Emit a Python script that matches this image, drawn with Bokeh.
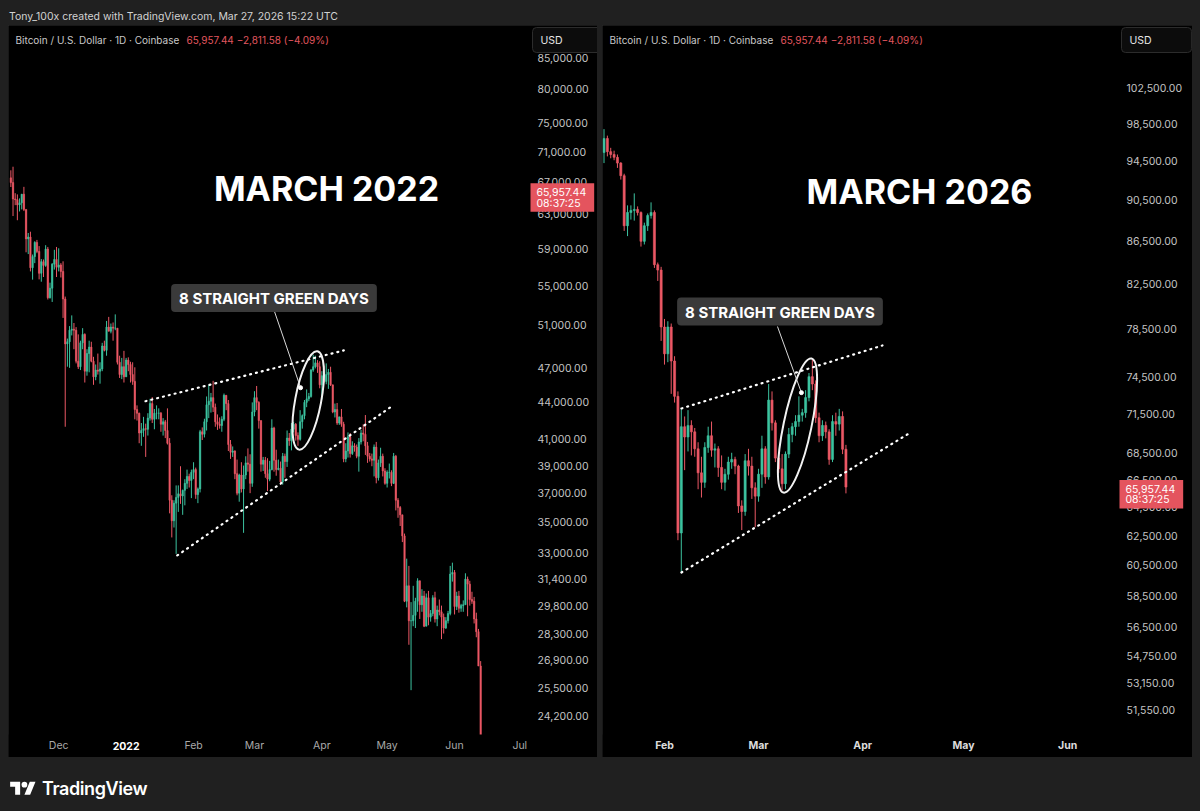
import numpy as np
import pandas as pd
from bokeh.plotting import figure
from bokeh.layouts import column, row
from bokeh.models import (ColumnDataSource, Range1d, FixedTicker, NumeralTickFormatter, LogAxis, LinearAxis,
                          Label, Div, BoxAnnotation, GlobalInlineStyleSheet)
from bokeh.embed import file_html
from bokeh.resources import INLINE

# ---------------------------------------------------------------- data 2021/22 (daily, from 2021-11-09)
L_FIRST_DATE = "2021-11-09"
L_FIRST_OPEN = 67550
L_HIGH = [
    68530, 69000, 65600, 65450, 64950, 65500, 66400, 63600, 60800, 60950, 58350, 59850, 60000, 59300, 57850, 57800,
    59400, 59200, 55300, 57400, 58880, 59200,
    59050, 57400, 57600, 53850, 49700, 50900, 51950, 51200, 50800, 50100, 49500, 50700, 50200, 48700, 49500, 49400,
    48000, 47300, 48300, 47500, 49300, 49500, 51400, 51800, 51150, 51250, 52050, 50700, 48100, 47900, 48550,
    47900, 47950, 47550, 47500, 47050, 43750, 43150, 42300, 42800, 42250, 43100, 44300, 44450, 43450, 43750, 43500,
    43200, 42700, 42550, 43500, 41100, 36850, 36500, 37550, 37550, 38950, 37250, 38000, 38700, 38400, 38700,
    39250, 38850, 37400, 41750, 41950, 42650, 44500, 45500, 44800, 45850, 43900, 43000, 42750, 42850, 44750, 44600,
    44200, 40950, 40450, 40150, 39450, 38400, 39250, 39000, 39700, 40300, 39850, 44000,
    44950, 45400, 44100, 42500, 39650, 39650, 39550, 39350, 42600, 42000, 40200, 39450, 39300, 39950, 39900, 41700,
    41500, 42300, 42400, 42300, 41550, 43350, 43000, 44200, 45100, 44800, 46900, 48200, 48100, 47700, 47600,
    46700, 47200, 47400, 46900, 47100, 45500, 43900, 43950, 42800, 43450, 42400, 40700, 41550, 41500, 40850, 40700,
    40600, 41100, 41750, 42200, 42950, 40800, 39950, 39900, 40600, 40800, 39450, 40350, 39900, 38800,
    38650, 39150, 38650, 39950, 39800, 36650, 36100, 35500, 34250, 32650, 32200, 30050, 31000, 30300, 31450, 31300,
    30800, 30700, 30550, 30700, 29600, 30450, 30650, 29850, 30200, 29850, 29400, 29200, 29550, 32200, 32400,
    31950, 30650, 30700, 29950, 30150, 31750, 31550, 31300, 30650, 30350, 29450, 28550, 26850,
]
L_LOW = [
    66380, 62800, 64120, 62300, 63350, 63600, 63400, 58600, 58400, 56500, 55620, 57400, 58500, 55650, 55400, 55900,
    57000, 53550, 53650, 53300, 56700, 55900,
    56500, 55850, 51700, 42000, 47100, 47000, 50000, 48700, 47400, 46900, 46800, 48700, 45700, 46300, 46600, 47500,
    45500, 45900, 46400, 45600, 46700, 48500, 48100, 50400, 50200, 49500, 50500, 47300, 46100, 46000, 45700,
    46200, 46700, 45700, 45500, 42600, 42500, 40700, 40500, 41200, 39650, 41300, 42500, 42300, 41800, 42600, 42600,
    41600, 41300, 41100, 40600, 35600, 34000, 34650, 32950, 35700, 36250, 35500, 36150, 37300, 37400, 36650,
    38000, 36600, 36300, 37050, 40950, 41150, 41700, 42700, 43150, 43200, 42000, 41750, 41850, 41600, 42450, 43350,
    40100, 39500, 39650, 38000, 36850, 36400, 37050, 34300, 38000, 38550, 37000, 37450,
    42850, 43350, 41850, 38550, 38600, 38100, 37150, 37850, 38650, 38550, 38250, 38650, 37600, 37600, 38100, 38900,
    40500, 40150, 41550, 40900, 40500, 40900, 41850, 42600, 43600, 44100, 44400, 46650, 46950, 46550, 45200,
    44250, 45650, 45550, 45150, 45400, 43100, 42750, 42150, 42150, 42000, 39250, 39250, 39600, 39600, 39800, 40050,
    39550, 38550, 40600, 40850, 39800, 39200, 39300, 38950, 38200, 37700, 37900, 38900, 38200, 37600,
    37400, 38050, 37500, 37650, 35800, 35300, 34750, 33700, 30050, 29750, 27700, 25400, 28700, 28600, 29500, 29100,
    29500, 28650, 28700, 28750, 28950, 29250, 28900, 28700, 29300, 28000, 28300, 28550, 28850, 29300, 31250,
    29350, 29600, 29450, 29500, 29500, 29900, 29250, 29850, 29950, 28850, 28100, 26600, 21950,
]
L_CLOSE = [
    66940, 64880, 64800, 64150, 64400, 65480, 63600, 60120, 60340, 56900, 58120, 59720, 58700, 56300, 57560, 57150,
    58960, 53730, 54720, 57290, 57810, 56950,
    57200, 56500, 53600, 49200, 49400, 50500, 50600, 50500, 47600, 47100, 49300, 50100, 46700, 48300, 48900, 47600,
    46200, 46800, 46700, 46900, 49000, 48600, 50800, 50400, 50800, 50700, 50700, 47500, 46400, 47100, 46200,
    47700, 47300, 46400, 45800, 43400, 43100, 41500, 41700, 41850, 41800, 42700, 43900, 42600, 43100, 43100, 43100,
    42200, 42400, 41700, 40700, 36500, 35100, 36300, 36700, 36950, 36800, 37200, 37700, 38200, 37900, 38500,
    38700, 36900, 37300, 41600, 41400, 42400, 43800, 44100, 44400, 43600, 42400, 42200, 42100, 42600, 44600, 43900,
    40600, 40000, 40100, 38400, 37000, 38300, 37300, 38300, 39200, 39100, 37700, 43200,
    44400, 44000, 42500, 39100, 39400, 38400, 38000, 38700, 41900, 39400, 38700, 38800, 37800, 39700, 39300, 41100,
    40900, 41800, 42200, 41300, 41000, 42400, 42900, 44000, 44300, 44500, 46800, 47100, 47450, 47100, 45500,
    46300, 45800, 46400, 46600, 45500, 43200, 43400, 42300, 42800, 42200, 39500, 40100, 41200, 39900, 40500, 40400,
    39700, 40800, 41500, 41400, 40500, 39700, 39500, 39400, 40400, 38100, 39200, 39700, 38600, 37700,
    38500, 38500, 37700, 39700, 36500, 36000, 35500, 34100, 30100, 31000, 29000, 29000, 29300, 30100, 31300, 29900,
    30400, 28700, 30300, 29200, 29400, 30300, 29100, 29600, 29500, 29200, 28600, 29000, 29400, 31700, 31800,
    29800, 30400, 29700, 29850, 29900, 31400, 31100, 30200, 30100, 29100, 28400, 26600, 22500,
]
L_ZERO = "2021-12-01"
L_XTICK_DATES = ["2021-12-01", "2022-01-01", "2022-02-01", "2022-03-01", "2022-04-01", "2022-05-01",
                 "2022-06-01", "2022-07-01"]
L_XTICK_LABELS = ["Dec", "2022", "Feb", "Mar", "Apr", "May", "Jun", "Jul"]
L_YTICKS = [24200, 25500, 26900, 28300, 29800, 31400, 33000, 35000, 37000, 39000, 41000, 44000, 47000,
            51000, 55000, 59000, 63000, 67000, 71000, 75000, 80000, 85000]

# ---------------------------------------------------------------- data 2026 (daily, from 2026-01-14)
R_FIRST_DATE = "2026-01-14"
R_FIRST_OPEN = 95400
R_HIGH = [
    97900, 97200, 95900, 95600, 95200, 94400, 93200, 90000, 90000, 91200, 89900, 89400, 88300, 89200, 90300, 89500,
    84500, 84100,
    79400, 79200, 79000, 76200, 73300, 71900, 71300, 71800, 71000, 70400, 69300, 68200, 69300, 70500, 70900, 69200,
    69000, 68300, 67300, 68200, 68500, 68200, 67600, 65000, 68400, 68800, 68200, 66300,
    67300, 69800, 69000, 73900, 73300, 71000, 68500, 68400, 68600, 70400, 70800, 71400, 72900, 71900, 73400, 74800,
    76000, 74200, 71600, 71000, 70900, 70300, 71400, 71600, 71900, 71700, 69100,
]
R_LOW = [
    94300, 95000, 94800, 94600, 93800, 92600, 87500, 87000, 88600, 88500, 89000, 86000, 86200, 87500, 88700, 84000,
    82800, 77500,
    75500, 75700, 73100, 72400, 62200, 60000, 67200, 68600, 68300, 68200, 65800, 65200, 65900, 68500, 68200, 67400,
    66700, 65800, 65700, 66500, 67300, 66900, 64100, 62900, 63900, 66800, 65100, 63100,
    64900, 65900, 66200, 66500, 70200, 67800, 67000, 65700, 65800, 68100, 69300, 69800, 70500, 70900, 71200, 72500,
    73400, 70800, 69300, 69400, 69600, 67600, 67800, 69800, 70200, 68400, 65500,
]
R_CLOSE = [
    96900, 95500, 95200, 94900, 94300, 93000, 88000, 89300, 89500, 89600, 89300, 86500, 88000, 89000, 89300, 84300,
    83800, 78700,
    76400, 78700, 75800, 72900, 62700, 70500, 69700, 70600, 70100, 68800, 67000, 66300, 68900, 69800, 68700, 68800,
    67400, 66300, 66900, 67800, 68000, 67500, 64600, 64200, 67900, 67500, 65900, 65300,
    66900, 68800, 66700, 72600, 70800, 68100, 67300, 66200, 68400, 69900, 70500, 70900, 71400, 71600, 72800, 74500,
    73900, 71200, 69800, 70600, 70100, 68000, 70900, 70700, 71300, 68769.02, 65957.44,
]
R_ZERO = "2026-02-01"
R_XTICK_DATES = ["2026-02-01", "2026-03-01", "2026-04-01", "2026-05-01", "2026-06-01"]
R_XTICK_LABELS = ["Feb", "Mar", "Apr", "May", "Jun"]
R_YTICKS = [51550, 53150, 54750, 56500, 58500, 60500, 62500, 64500, 66500, 68500, 71500, 74500, 78500,
            82500, 86500, 90500, 94500, 98500, 102500]

LAST_PRICE = 65957.44
LAST_CHANGE = -2811.58
LAST_PCT = -4.09
COUNTDOWN = "08:37:25"

# drawn annotations: (dates, prices)
L_UPPER_TREND = (["2022-01-09 22:00", "2022-04-11 02:00"], [44100, 48590])
L_LOWER_TREND = (["2022-01-24 12:00", "2022-05-02 14:00"], [32850, 43600])
L_ELLIPSE = ("2022-03-25 17:00", 44160)
L_POINTER = (["2022-03-10 05:00", "2022-03-22 05:00"], [52340, 45250])
R_UPPER_TREND = (["2026-02-06 01:00", "2026-04-06 21:00"], [71930, 77110])
R_LOWER_TREND = (["2026-02-06 01:00", "2026-04-15 05:00"], [60020, 70050])
R_ELLIPSE = ("2026-03-12 14:00", 70590)
R_POINTER = (["2026-03-06 15:00", "2026-03-13 18:00"], [78740, 73200])

# ---------------------------------------------------------------- style / layout
UP = "#3cc3a0"
DOWN = "#eb5865"
RED_TXT = "#e0565f"
FONT = "Inter"
PANEL_H = 732


def days(dates, zero):
    return ((pd.to_datetime(pd.Series(dates)) - pd.Timestamp(zero)) / pd.Timedelta(days=1)).to_numpy(dtype=float)


def candle_source(first_date, first_open, highs, lows, closes, zero):
    n = min(len(highs), len(lows), len(closes))
    c = np.array(closes[:n], float)
    o = np.concatenate([[first_open], c[:-1]])
    h = np.maximum(np.array(highs[:n], float), np.maximum(o, c))
    l = np.minimum(np.array(lows[:n], float), np.minimum(o, c))
    x = days(pd.date_range(first_date, periods=n, freq="D"), zero)
    color = np.where(c >= o, UP, DOWN)
    return ColumnDataSource(dict(x=x, o=o, h=h, l=l, c=c, top=np.maximum(o, c),
                                 bottom=np.minimum(o, c), color=color))


def panel(width, xr, yr, scale_x, axis_price, yticks, xtick_dates, xtick_labels, zero, src,
          upper, lower, ell, ell_size, pointer, title, title_pos, box_pos, price_x, x_bold, hide_label=None):
    p = figure(width=width, height=PANEL_H, x_range=Range1d(*xr), y_range=Range1d(*yr),
               y_axis_type="log", x_axis_location=None, y_axis_location=None, output_backend="svg",
               toolbar_location=None, background_fill_color="#000000", border_fill_color="#000000",
               min_border_left=0, min_border_right=0, min_border_top=0, min_border_bottom=0,
               styles={"outline": "1px solid #303030", "outline-offset": "-1px"})
    p.outline_line_color = None
    p.grid.visible = False

    # candles
    p.segment(x0="x", y0="h", x1="x", y1="l", line_color="color", line_width=1, source=src)
    p.vbar(x="x", width=0.62, top="top", bottom="bottom", fill_color="color", line_color="color",
           line_width=0.6, source=src)
    # time-scale strip covers anything below the chart pane
    p.add_layout(BoxAnnotation(top=axis_price, fill_color="#000000", fill_alpha=1.0, line_color=None,
                               level="glyph"))

    ya = LogAxis(fixed_location=scale_x, ticker=FixedTicker(ticks=yticks),
                 formatter=NumeralTickFormatter(format="0,0.00"))
    ya.axis_line_color = None
    ya.major_tick_line_color = None
    ya.minor_tick_line_color = None
    ya.major_tick_out = 0
    ya.major_tick_in = 0
    ya.major_label_standoff = 8
    ya.major_label_text_font = FONT
    ya.major_label_text_font_size = "10.5px"
    ya.major_label_text_color = "#c4c4c4"
    p.add_layout(ya, "right")

    xt = days(xtick_dates, zero)
    xa = LinearAxis(fixed_location=axis_price, ticker=FixedTicker(ticks=list(xt)))
    xa.major_label_overrides = {float(t): ("" if lab == hide_label else lab) for t, lab in zip(xt, xtick_labels)}
    xa.axis_line_color = None
    xa.major_tick_line_color = None
    xa.minor_tick_line_color = None
    xa.major_tick_out = 0
    xa.major_tick_in = 0
    xa.major_label_standoff = 5
    xa.major_label_text_font = FONT
    xa.major_label_text_font_size = "10.5px"
    xa.major_label_text_color = "#dcdcdc" if x_bold else "#a9a9a9"
    xa.major_label_text_font_style = "bold" if x_bold else "normal"
    p.add_layout(xa, "below")
    if hide_label is not None:
        i = xtick_labels.index(hide_label)
        p.add_layout(Label(x=xt[i], y=PANEL_H - 720, x_units="data", y_units="screen", text=hide_label,
                           text_font=FONT, text_font_size="10.5px", text_font_style="bold",
                           text_color="#ffffff", text_align="center", text_baseline="middle"))

    # drawings
    for d, v in (upper, lower):
        p.line(x=days(d, zero), y=v, line_color="#ffffff", line_width=2.2, line_dash="1 5", line_cap="round")
    p.ellipse(x=days([ell[0]], zero), y=[ell[1]], width=ell_size[0], height=ell_size[1], angle=ell_size[2],
              width_units="screen", height_units="screen", fill_color=None, line_color="#f2f2f2", line_width=2)
    px = days(pointer[0], zero)
    p.line(x=px, y=pointer[1], line_color="#d9d9d9", line_width=1)
    p.scatter(x=[px[-1]], y=[pointer[1][-1]], size=4, color="#ffffff")

    # texts
    p.add_layout(Label(x=7, y=PANEL_H - 14, x_units="screen", y_units="screen",
                       text="Bitcoin / U.S. Dollar · 1D · Coinbase", text_font=FONT, text_font_size="10px",
                       text_color="#c8c8c8", text_baseline="middle"))
    p.add_layout(Label(x=178, y=PANEL_H - 14, x_units="screen", y_units="screen",
                       text=f"{LAST_PRICE:,.2f}  −{abs(LAST_CHANGE):,.2f} (−{abs(LAST_PCT):.2f}%)",
                       text_font=FONT, text_font_size="10px", text_color=RED_TXT, text_baseline="middle"))
    p.add_layout(Label(x=price_x + 3, y=PANEL_H - 14.5, x_units="screen", y_units="screen", text="USD",
                       text_font=FONT, text_font_size="10.5px", text_color="#e6e6e6", text_baseline="middle",
                       background_fill_color="#0c0c0c", border_line_color="#2c2c2c", border_radius=4,
                       padding=(8, 40, 6, 6)))
    p.add_layout(Label(x=price_x + 1, y=LAST_PRICE, x_units="screen", y_units="data",
                       text=f"{LAST_PRICE:,.2f}\n{COUNTDOWN}", text_font=FONT, text_font_size="10.5px",
                       text_color="#ffffff", text_baseline="top", y_offset=7, text_line_height=0.8,
                       background_fill_color="#e4545e", padding=(6, 8, 3, 2)))
    p.add_layout(Label(x=title_pos[0], y=PANEL_H - title_pos[1], x_units="screen", y_units="screen",
                       text=title, text_font=FONT, text_font_size="34px", text_font_style="bold",
                       text_color="#ffffff", text_align="center", text_baseline="middle"))
    p.add_layout(Label(x=box_pos[0], y=PANEL_H - box_pos[1], x_units="screen", y_units="screen",
                       text="8 STRAIGHT GREEN DAYS", text_font=FONT, text_font_size="15px",
                       text_font_style="bold", text_color="#ffffff", text_align="center",
                       text_baseline="middle", background_fill_color="#3a3a3a", border_radius=4,
                       padding=(8, 8, 5, 4)))
    return p


src_l = candle_source(L_FIRST_DATE, L_FIRST_OPEN, L_HIGH, L_LOW, L_CLOSE, L_ZERO)
src_r = candle_source(R_FIRST_DATE, R_FIRST_OPEN, R_HIGH, R_LOW, R_CLOSE, R_ZERO)

# panels: left spans page x 8..597, right 602..1192; both page y 25..757
p1 = panel(589, (-23.08, 247.72), (22336, 90355), 216.46, 23340, L_YTICKS, L_XTICK_DATES, L_XTICK_LABELS,
           L_ZERO, src_l, L_UPPER_TREND, L_LOWER_TREND, L_ELLIPSE, (26, 100, -0.186), L_POINTER,
           "MARCH 2022", (318, 163), (265.5, 272.5), 521, False, hide_label="2022")
p2 = panel(590, (-18.45, 157.14), (48940, 109760), 135.12, 50200, R_YTICKS, R_XTICK_DATES, R_XTICK_LABELS,
           R_ZERO, src_r, R_UPPER_TREND, R_LOWER_TREND, R_ELLIPSE, (28, 137, -0.206), R_POINTER,
           "MARCH 2026", (317, 166), (177.5, 286), 516, True)

header = Div(text='<div style="font-family:Inter;font-size:10.5px;color:#d2d2d2;line-height:17px;'
                  'padding-top:8px;white-space:nowrap;">'
                  'Tony_100x created with TradingView.com, Mar 27, 2026 15:22 UTC</div>',
             width=1184, height=25, margin=(0, 0, 0, 1))
footer = Div(text='<div style="display:flex;align-items:center;gap:6px;padding-top:19px;">'
                  '<svg width="26" height="20" viewBox="0 0 36 28"><path fill="#ffffff" '
                  'd="M14 22H7V11H0V4h14v18zM28 22h-8l7.5-18h8L28 22z"/><circle fill="#ffffff" cx="20" cy="8" r="4"/>'
                  '</svg><span style="font-family:Inter;font-weight:600;font-size:18px;color:#ffffff;'
                  'letter-spacing:-0.4px;">TradingView</span></div>',
             width=400, height=46, margin=(0, 0, 0, 2))

layout = column(header, row(p1, p2, spacing=5), footer, spacing=0, margin=(0, 0, 0, 8),
                stylesheets=[GlobalInlineStyleSheet(css="body{background-color:#202020;}")])

open("out.html", "w").write(file_html(layout, INLINE))
